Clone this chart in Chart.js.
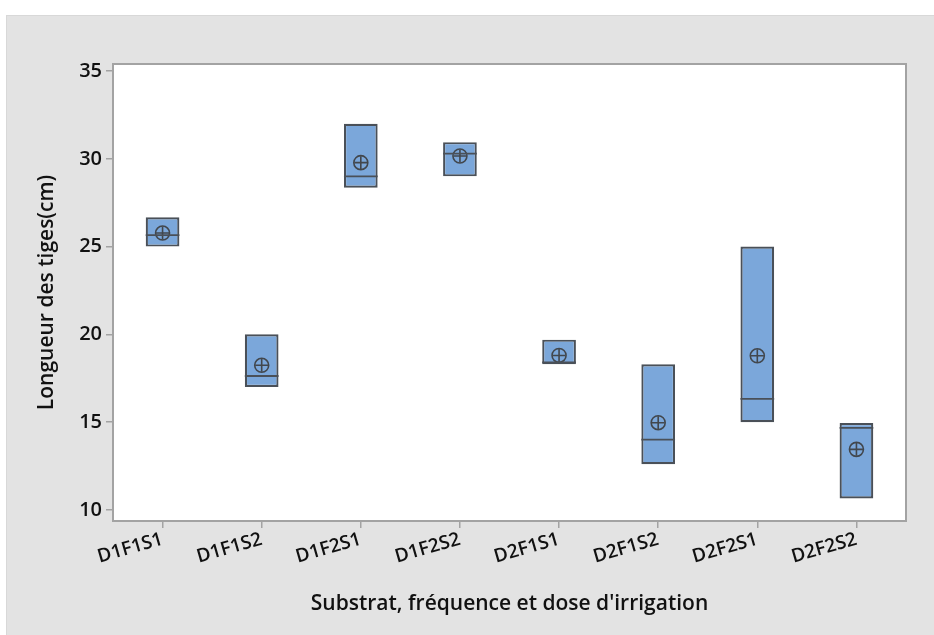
<!DOCTYPE html>
<html>
<head>
<meta charset="utf-8">
<script src="https://cdn.jsdelivr.net/npm/chart.js@4.4.0/dist/chart.umd.min.js"></script>
<style>
    html, body { margin: 0; padding: 0; background: #ffffff; }
    #panel {
        position: absolute;
        left: 6px;
        top: 15px;
        width: 928px;
        height: 620px;
        background: #e3e3e3;
        border-top: 1px solid #d8d8d8;
        border-left: 1px solid #d8d8d8;
        box-sizing: border-box;
    }
    #chartBox { position: absolute; left: -1px; top: -1px; width: 928px; height: 620px; }
</style>
</head>
<body>
<div id="panel">
    <div id="chartBox"><canvas id="boxChart"></canvas></div>
</div>
<script>
// ===========================
// Data
// ===========================

const categories = ['D1F1S1', 'D1F1S2', 'D1F2S1', 'D1F2S2', 'D2F1S1', 'D2F1S2', 'D2F2S1', 'D2F2S2'];
const q1Values     = [25.0, 17.0, 28.35, 29.0, 18.3, 12.6, 15.0, 10.65];
const q3Values     = [26.67, 20.0, 32.0, 30.95, 19.7, 18.3, 25.0, 14.95];
const medianValues = [25.65, 17.63, 29.0, 30.3, 18.4, 14.0, 16.33, 14.67];
const meanValues   = [25.77, 18.24, 29.78, 30.16, 18.8, 14.97, 18.78, 13.45];
const yTicks = [10, 15, 20, 25, 30, 35];

const FONT = '"Open Sans", "Noto Sans", sans-serif';
const BOX_FILL = '#7ba7da';
const BOX_LINE = '#4a5058';
const MEAN_LINE = '#42474d';

// ===========================
// Plugins: plot background, frame, median lines
// ===========================

const plotFrame = {
    id: 'plotFrame',
    beforeDatasetsDraw(chart) {
        const a = chart.chartArea;
        const ctx = chart.ctx;
        ctx.save();
        ctx.fillStyle = '#ffffff';
        ctx.fillRect(a.left, a.top, a.right - a.left, a.bottom - a.top);
        ctx.restore();
    },
    afterDatasetsDraw(chart) {
        const a = chart.chartArea;
        const ctx = chart.ctx;
        ctx.save();
        ctx.strokeStyle = '#a3a3a3';
        ctx.lineWidth = 2;
        ctx.strokeRect(a.left, a.top, a.right - a.left, a.bottom - a.top);
        ctx.restore();
    }
};

const medianLines = {
    id: 'medianLines',
    afterDatasetsDraw(chart) {
        const meta = chart.getDatasetMeta(0);
        const y = chart.scales.y;
        const ctx = chart.ctx;
        ctx.save();
        ctx.strokeStyle = BOX_LINE;
        ctx.lineWidth = 1.8;
        meta.data.forEach((bar, i) => {
            const py = y.getPixelForValue(medianValues[i]);
            const half = bar.width / 2;
            ctx.beginPath();
            ctx.moveTo(bar.x - half, py);
            ctx.lineTo(bar.x + half, py);
            ctx.stroke();
        });
        ctx.restore();
    }
};

// ===========================
// Chart
// ===========================

const ctx = document.getElementById('boxChart');

new Chart(ctx, {
    type: 'bar',
    data: {
        labels: categories,
        datasets: [
            {
                label: 'IQR',
                data: q1Values.map((v, i) => [v, q3Values[i]]),
                backgroundColor: BOX_FILL,
                borderColor: BOX_LINE,
                borderWidth: 2.2,
                borderSkipped: false,
                barPercentage: 0.34,
                categoryPercentage: 1,
                order: 2
            },
            {
                type: 'line',
                label: 'Mean',
                data: meanValues,
                showLine: false,
                pointStyle: 'circle',
                pointRadius: 7,
                pointBackgroundColor: 'rgba(0,0,0,0)',
                pointBorderColor: MEAN_LINE,
                pointBorderWidth: 1.6,
                order: 1
            },
            {
                type: 'line',
                label: 'Mean cross',
                data: meanValues,
                showLine: false,
                pointStyle: 'cross',
                pointRadius: 6.5,
                pointBorderColor: MEAN_LINE,
                pointBorderWidth: 1.6,
                order: 0
            }
        ]
    },
    options: {
        responsive: true,
        maintainAspectRatio: false,
        animation: false,
        layout: {
            padding: { top: 49, right: 28, left: 28, bottom: 14 }
        },
        plugins: {
            legend: { display: false },
            tooltip: { enabled: false }
        },
        scales: {
            x: {
                offset: true,
                grid: {
                    display: true,
                    offset: false,
                    drawOnChartArea: false,
                    drawTicks: true,
                    tickLength: 7,
                    color: '#a3a3a3',
                    lineWidth: 1.5
                },
                border: { display: false },
                ticks: {
                    autoSkip: false,
                    minRotation: 16,
                    maxRotation: 16,
                    color: '#111111',
                    padding: 0,
                    font: { family: FONT, size: 19, weight: '600' }
                },
                title: {
                    display: true,
                    text: "Substrat, fréquence et dose d'irrigation",
                    color: '#111111',
                    padding: { top: 4, bottom: 4 },
                    font: { family: FONT, size: 21, weight: '600' }
                },
                afterFit(scale) { scale.height = 100; }
            },
            y: {
                min: 9.37,
                max: 35.4,
                grid: {
                    display: true,
                    drawOnChartArea: false,
                    drawTicks: true,
                    tickLength: 7,
                    color: '#a3a3a3',
                    lineWidth: 1.5
                },
                border: { display: false },
                ticks: {
                    color: '#111111',
                    padding: 4,
                    font: { family: FONT, size: 20, weight: '600' }
                },
                afterBuildTicks(scale) {
                    scale.ticks = yTicks.map(v => ({ value: v }));
                },
                title: {
                    display: true,
                    text: 'Longueur des tiges(cm)',
                    color: '#111111',
                    padding: { top: 0, bottom: 4 },
                    font: { family: FONT, size: 21, weight: '600' }
                },
                afterFit(scale) { scale.width = 79; }
            }
        }
    },
    plugins: [plotFrame, medianLines]
});
</script>
</body>
</html>
